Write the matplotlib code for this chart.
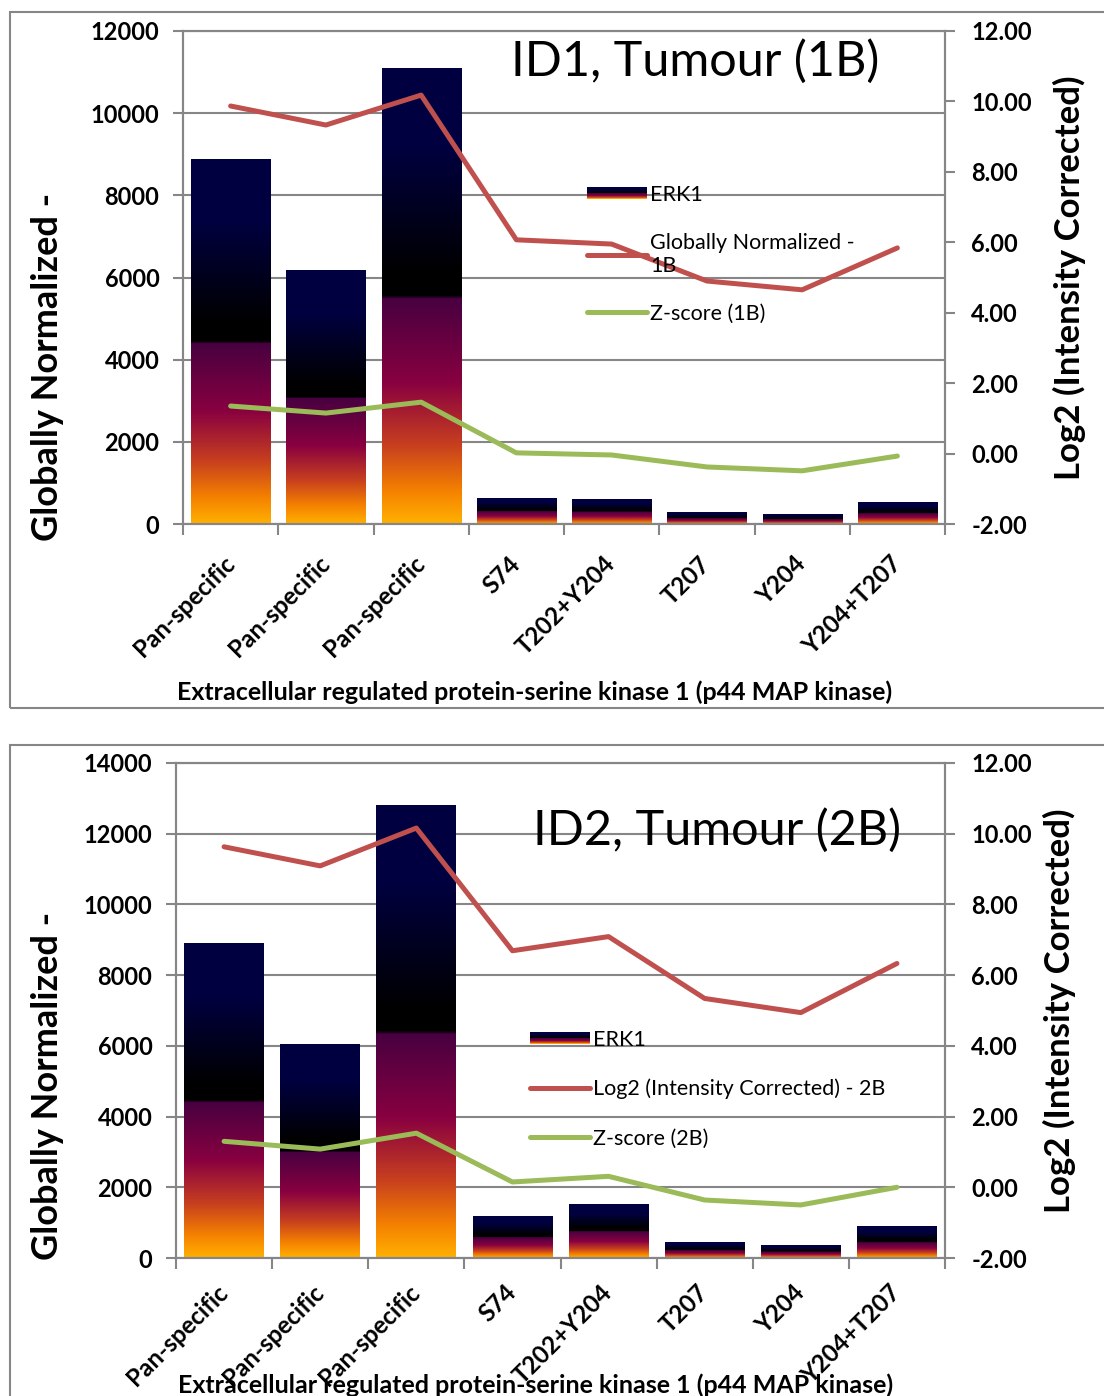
import matplotlib.pyplot as plt
import numpy as np
from matplotlib.colors import LinearSegmentedColormap
from matplotlib.patches import Rectangle
from matplotlib.legend_handler import HandlerBase
from matplotlib.lines import Line2D

plt.rcParams['font.family'] = ['Lato', 'DejaVu Sans']

sites = ['Pan-specific', 'Pan-specific', 'Pan-specific', 'S74',
         'T202+Y204', 'T207', 'Y204', 'Y204+T207']

# ID1 tumour (1B)
erk1_1b = [8880, 6160, 11080, 630, 585, 290, 220, 535]
log2_1b = [9.87, 9.33, 10.18, 6.07, 5.95, 4.90, 4.65, 5.84]
z_1b = [1.35, 1.15, 1.46, 0.02, -0.04, -0.38, -0.49, -0.07]

# ID2 tumour (2B)
erk1_2b = [8890, 6040, 12790, 1160, 1525, 450, 340, 905]
log2_2b = [9.63, 9.09, 10.16, 6.69, 7.09, 5.34, 4.94, 6.33]
z_2b = [1.30, 1.08, 1.53, 0.15, 0.31, -0.36, -0.50, 0.00]

GREY = '#868686'
RED = '#C0504D'
GREEN = '#9BBB59'

cmap = LinearSegmentedColormap.from_list('erk', [
    (0.0, '#FFB000'), (0.07, '#F58200'), (0.17, '#C8401E'),
    (0.31, '#880040'), (0.495, '#480040'), (0.5, '#000000'),
    (0.55, '#000000'), (0.83, '#000040'), (1.0, '#000040')])
grad = np.linspace(0, 1, 256).reshape(-1, 1)


class HandlerGradient(HandlerBase):
    def create_artists(self, legend, orig_handle, xdescent, ydescent,
                       width, height, fontsize, trans):
        out = []
        n = 24
        h = height * 0.75
        y0 = -ydescent + (height - h) / 2
        for i in range(n):
            r = Rectangle((-xdescent, y0 + h * i / n), width, h / n + 0.2,
                          facecolor=cmap((i + 0.5) / n), edgecolor='none',
                          transform=trans)
            out.append(r)
        return out


fig = plt.figure(figsize=(11.04, 13.96), dpi=100)
W, H = 1104, 1396

# panel frames
fig.patches.append(Rectangle((10 / W, (H - 708) / H), 1.2, (708 - 12) / H,
                             transform=fig.transFigure, fill=False,
                             ec=GREY, lw=1.5))
fig.patches.append(Rectangle((10 / W, -0.1), 1.2, (H - 745) / H + 0.1,
                             transform=fig.transFigure, fill=False,
                             ec=GREY, lw=1.5))


def green_label(title):
    return 'Z-score (%s)' % title.split('(')[1].rstrip(')')


def panel(px, bars, red, green, ymax, title, title_xy, red_label,
          leg_xy, leg_sp, ylab_xy, y2lab_xy, xlab_xy, xpad):
    l, r, t, b = px
    ax = fig.add_axes([l / W, (H - b) / H, (r - l) / W, (b - t) / H])
    x = np.arange(len(sites))
    bp = ax.bar(x, bars, width=0.83, color='none', zorder=2)
    for p in bp:
        ax.imshow(grad, extent=[p.get_x(), p.get_x() + p.get_width(), 0,
                                p.get_height()],
                  aspect='auto', cmap=cmap, origin='lower', zorder=2)
    ax.set_xlim(-0.5, len(sites) - 0.5)
    ax.set_ylim(0, ymax)
    ax.set_axisbelow(True)
    ax.yaxis.grid(True, color=GREY, lw=1.5)
    for s in ax.spines.values():
        s.set_color(GREY)
        s.set_linewidth(1.5)
    yt = np.arange(0, ymax + 1, 2000)
    ax.set_yticks(yt, [str(v) for v in yt], fontweight='bold', fontsize=17)
    ax.tick_params(axis='y', direction='out', length=7, width=1.5,
                   color=GREY, pad=10)
    ax.set_xticks(x, sites, fontweight='bold', fontsize=17.5, rotation=45,
                  ha='right', va='center', rotation_mode='anchor')
    ax.set_xticks(np.arange(-0.5, len(sites)), minor=True)
    ax.tick_params(axis='x', which='major', length=0, pad=xpad)
    ax.tick_params(axis='x', which='minor', direction='out', length=8,
                   width=1.5, color=GREY)
    ax.set_ylabel('Globally Normalized -', fontsize=26, fontweight='bold')
    ax.yaxis.set_label_coords(*ylab_xy)
    ax.set_xlabel('Extracellular regulated protein-serine kinase 1 '
                  '(p44 MAP kinase)', fontsize=18, fontweight='bold')
    ax.xaxis.set_label_coords(*xlab_xy)

    ax2 = ax.twinx()
    ax2.plot(x, red, color=RED, lw=3.6, solid_capstyle='round',
             solid_joinstyle='round')
    ax2.plot(x, green, color=GREEN, lw=3.6, solid_capstyle='round',
             solid_joinstyle='round')
    ax2.set_ylim(-2, 12)
    y2 = np.arange(-2, 13, 2)
    ax2.set_yticks(y2, ['%.2f' % v for v in y2], fontweight='bold',
                   fontsize=17)
    ax2.tick_params(axis='y', direction='out', length=7, width=1.5,
                    color=GREY, pad=12)
    for s in ax2.spines.values():
        s.set_color(GREY)
        s.set_linewidth(1.5)
    ax2.set_ylabel('Log2 (Intensity Corrected)', fontsize=25,
                   fontweight='bold', rotation=90)
    ax2.yaxis.set_label_coords(*y2lab_xy)

    ax2.text(title_xy[0], title_xy[1], title, transform=ax2.transAxes,
             ha='center', va='center', fontsize=35)

    handles = [Rectangle((0, 0), 1, 1),
               Line2D([], [], color=RED, lw=3.6, solid_capstyle='round'),
               Line2D([], [], color=GREEN, lw=3.6, solid_capstyle='round')]
    leg = ax2.legend(handles, ['ERK1', red_label, green_label(title)],
                     handler_map={Rectangle: HandlerGradient()},
                     loc='upper left', bbox_to_anchor=leg_xy, frameon=False,
                     fontsize=15.5, handlelength=2.8, handletextpad=0.15,
                     labelspacing=leg_sp, borderpad=0, borderaxespad=0)
    return ax


panel((183, 945, 31, 524), erk1_1b, log2_1b, z_1b, 12000,
      'ID1, Tumour (1B)', (0.672, 0.939), 'Globally Normalized -\n1B',
      (0.530, 0.688), 1.3, (-0.156, 0.318), (1.141, 0.499),
      (0.462, -0.317), 26)

panel((176, 945, 763, 1258), erk1_2b, log2_2b, z_2b, 14000,
      'ID2, Tumour (2B)', (0.7035, 0.863), 'Log2 (Intensity Corrected) - 2B',
      (0.460, 0.461), 1.35, (-0.146, 0.347), (1.127, 0.499),
      (0.467, -0.233), 22)

fig.savefig('out.png', dpi=100)
